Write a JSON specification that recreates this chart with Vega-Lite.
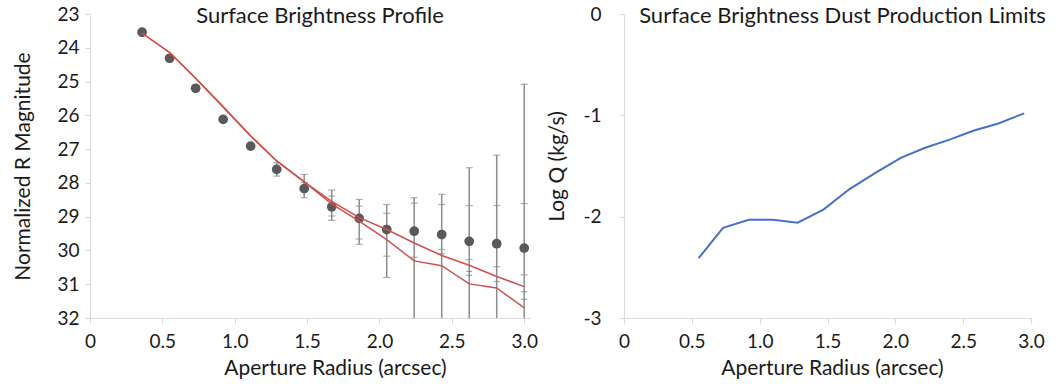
{
  "$schema": "https://vega.github.io/schema/vega-lite/v6.json",
  "background": "white",
  "padding": {"left": 12, "top": 5, "right": 5, "bottom": 1},
  "spacing": 8,
  "config": {
    "font": "Lato",
    "view": {"stroke": null},
    "axis": {
      "domainColor": "#D9D9D9", "tickColor": "#D9D9D9", "grid": false,
      "labelColor": "#1a1a1a", "titleColor": "#1a1a1a",
      "labelFontSize": 19, "titleFontSize": 21, "titleFontWeight": "normal",
      "labelFont": "Lato", "titleFont": "Lato", "tickSize": 5,
      "labelOverlap": false, "labelFlush": false
    },
    "title": {"font": "Lato", "fontSize": 22, "fontWeight": "normal", "color": "#1a1a1a"}
  },
  "datasets": {
    "points": [
      {"r": 0.36, "val": 23.54}, {"r": 0.55, "val": 24.31}, {"r": 0.73, "val": 25.20},
      {"r": 0.92, "val": 26.12}, {"r": 1.11, "val": 26.91}, {"r": 1.29, "val": 27.60},
      {"r": 1.48, "val": 28.17}, {"r": 1.67, "val": 28.71}, {"r": 1.86, "val": 29.05},
      {"r": 2.05, "val": 29.38}, {"r": 2.24, "val": 29.43}, {"r": 2.43, "val": 29.53},
      {"r": 2.62, "val": 29.73}, {"r": 2.81, "val": 29.80}, {"r": 3.00, "val": 29.93}
    ],
    "bars": [
      {"r": 0.36, "val": 23.50, "val2": 23.58},
      {"r": 0.55, "val": 24.22, "val2": 24.40},
      {"r": 0.73, "val": 25.12, "val2": 25.28},
      {"r": 0.92, "val": 26.02, "val2": 26.22},
      {"r": 1.11, "val": 26.80, "val2": 27.02},
      {"r": 1.29, "val": 27.40, "val2": 27.80},
      {"r": 1.48, "val": 27.75, "val2": 28.44},
      {"r": 1.67, "val": 28.21, "val2": 29.11},
      {"r": 1.86, "val": 28.49, "val2": 29.82},
      {"r": 2.05, "val": 28.64, "val2": 30.80},
      {"r": 2.24, "val": 28.44, "val2": 32.5},
      {"r": 2.43, "val": 28.34, "val2": 32.5},
      {"r": 2.62, "val": 27.55, "val2": 32.5},
      {"r": 2.81, "val": 27.18, "val2": 32.5},
      {"r": 3.00, "val": 25.08, "val2": 32.5}
    ],
    "caps": [
      {"r": 1.29, "val": 27.40}, {"r": 1.29, "val": 27.80},
      {"r": 1.48, "val": 27.75}, {"r": 1.48, "val": 28.44}, {"r": 1.48, "val": 27.99},
      {"r": 1.67, "val": 28.21}, {"r": 1.67, "val": 29.11}, {"r": 1.67, "val": 28.39}, {"r": 1.67, "val": 28.98},
      {"r": 1.86, "val": 28.49}, {"r": 1.86, "val": 29.82}, {"r": 1.86, "val": 28.69}, {"r": 1.86, "val": 29.66},
      {"r": 2.05, "val": 28.64}, {"r": 2.05, "val": 30.80}, {"r": 2.05, "val": 28.90}, {"r": 2.05, "val": 30.17},
      {"r": 2.24, "val": 28.44}, {"r": 2.24, "val": 28.60}, {"r": 2.24, "val": 30.20},
      {"r": 2.43, "val": 28.34}, {"r": 2.43, "val": 28.64}, {"r": 2.43, "val": 29.97},
      {"r": 2.62, "val": 27.55}, {"r": 2.62, "val": 28.67}, {"r": 2.62, "val": 30.27},
      {"r": 2.81, "val": 27.18}, {"r": 2.81, "val": 28.67}, {"r": 2.81, "val": 30.48},
      {"r": 3.00, "val": 25.08}, {"r": 3.00, "val": 28.61}, {"r": 3.00, "val": 30.72}
    ],
    "teal": [
      {"r": 2.43, "val": 30.10},
      {"r": 2.62, "val": 30.62}, {"r": 2.62, "val": 30.74},
      {"r": 2.81, "val": 30.92},
      {"r": 3.00, "val": 31.22}, {"r": 3.00, "val": 31.45}
    ],
    "models": [
      {"model": "A", "r": 0.36, "val": 23.57}, {"model": "A", "r": 0.55, "val": 24.14},
      {"model": "A", "r": 0.73, "val": 24.90}, {"model": "A", "r": 0.92, "val": 25.75},
      {"model": "A", "r": 1.11, "val": 26.61}, {"model": "A", "r": 1.29, "val": 27.35},
      {"model": "A", "r": 1.48, "val": 27.97}, {"model": "A", "r": 1.67, "val": 28.55},
      {"model": "A", "r": 1.86, "val": 29.03}, {"model": "A", "r": 2.05, "val": 29.38},
      {"model": "A", "r": 2.24, "val": 29.78}, {"model": "A", "r": 2.43, "val": 30.15},
      {"model": "A", "r": 2.62, "val": 30.44}, {"model": "A", "r": 2.81, "val": 30.77},
      {"model": "A", "r": 3.00, "val": 31.07},
      {"model": "B", "r": 0.36, "val": 23.57}, {"model": "B", "r": 0.55, "val": 24.14},
      {"model": "B", "r": 0.73, "val": 24.90}, {"model": "B", "r": 0.92, "val": 25.75},
      {"model": "B", "r": 1.11, "val": 26.61}, {"model": "B", "r": 1.29, "val": 27.35},
      {"model": "B", "r": 1.48, "val": 27.97}, {"model": "B", "r": 1.67, "val": 28.62},
      {"model": "B", "r": 1.86, "val": 29.13}, {"model": "B", "r": 2.05, "val": 29.68},
      {"model": "B", "r": 2.24, "val": 30.31}, {"model": "B", "r": 2.43, "val": 30.45},
      {"model": "B", "r": 2.62, "val": 30.99}, {"model": "B", "r": 2.81, "val": 31.11},
      {"model": "B", "r": 3.00, "val": 31.70}
    ],
    "dust": [
      {"r": 0.55, "logq": -2.41}, {"r": 0.73, "logq": -2.11},
      {"r": 0.92, "logq": -2.03}, {"r": 1.10, "logq": -2.03},
      {"r": 1.28, "logq": -2.06}, {"r": 1.47, "logq": -1.93},
      {"r": 1.66, "logq": -1.73}, {"r": 1.85, "logq": -1.57},
      {"r": 2.04, "logq": -1.42}, {"r": 2.22, "logq": -1.32},
      {"r": 2.40, "logq": -1.24}, {"r": 2.58, "logq": -1.15},
      {"r": 2.76, "logq": -1.08}, {"r": 2.95, "logq": -0.98}
    ]
  },
  "hconcat": [
    {
      "width": 440,
      "height": 304,
      "title": {"text": "Surface Brightness Profile", "frame": "group", "anchor": "middle", "baseline": "alphabetic", "offset": -40, "dx": 10},
      "encoding": {
        "x": {"field": "r", "type": "quantitative",
              "scale": {"domain": [0, 3.04], "nice": false, "zero": false},
              "axis": {"values": [0, 0.5, 1, 1.5, 2, 2.5, 3], "labelExpr": "datum.value == 0 ? '0' : format(datum.value, '.1f')",
                       "title": "Aperture Radius (arcsec)", "labelPadding": 9, "titlePadding": 6, "titleX": 245, "labelOverlap": false}},
        "y": {"field": "val", "type": "quantitative",
              "scale": {"domain": [23, 32], "reverse": true, "nice": false, "zero": false},
              "axis": {"values": [23, 24, 25, 26, 27, 28, 29, 30, 31, 32], "title": "Normalized R Magnitude",
                       "labelPadding": 6, "titlePadding": 23, "labelOverlap": false}}
      },
      "layer": [
        {
          "data": {"name": "bars"},
          "mark": {"type": "rule", "color": "#8C8C8C", "strokeWidth": 1.5, "clip": true},
          "encoding": {"y2": {"field": "val2"}}
        },
        {
          "data": {"name": "caps"},
          "mark": {"type": "tick", "orient": "horizontal", "size": 7, "thickness": 1.2, "color": "#8C8C8C", "clip": true},
          "encoding": {}
        },
        {
          "data": {"name": "teal"},
          "mark": {"type": "tick", "orient": "horizontal", "size": 6, "thickness": 1.2, "color": "#3E9E8C", "clip": true},
          "encoding": {}
        },
        {
          "data": {"name": "points"},
          "mark": {"type": "circle", "size": 95, "color": "#595959", "opacity": 1},
          "encoding": {}
        },
        {
          "data": {"name": "models"},
          "mark": {"type": "line", "color": "#D0504F", "strokeWidth": 1.5, "clip": true},
          "encoding": {"detail": {"field": "model"}}
        }
      ]
    },
    {
      "width": 407,
      "height": 304,
      "title": {"text": "Surface Brightness Dust Production Limits", "frame": "group", "anchor": "middle", "baseline": "alphabetic", "offset": -40, "dx": 15},
      "data": {"name": "dust"},
      "mark": {"type": "line", "color": "#4472C4", "strokeWidth": 2},
      "encoding": {
        "x": {"field": "r", "type": "quantitative",
              "scale": {"domain": [0, 3], "nice": false, "zero": false},
              "axis": {"values": [0, 0.5, 1, 1.5, 2, 2.5, 3], "labelExpr": "datum.value == 0 ? '0' : format(datum.value, '.1f')",
                       "title": "Aperture Radius (arcsec)", "labelPadding": 9, "titlePadding": 6, "titleX": 208, "labelOverlap": false}},
        "y": {"field": "logq", "type": "quantitative",
              "scale": {"domain": [-3, 0], "nice": false, "zero": false},
              "axis": {"values": [0, -1, -2, -3], "labelExpr": "'' + datum.value", "title": "Log Q (kg/s)",
                       "labelPadding": 18, "titlePadding": 15, "labelOverlap": false}}
      }
    }
  ]
}
